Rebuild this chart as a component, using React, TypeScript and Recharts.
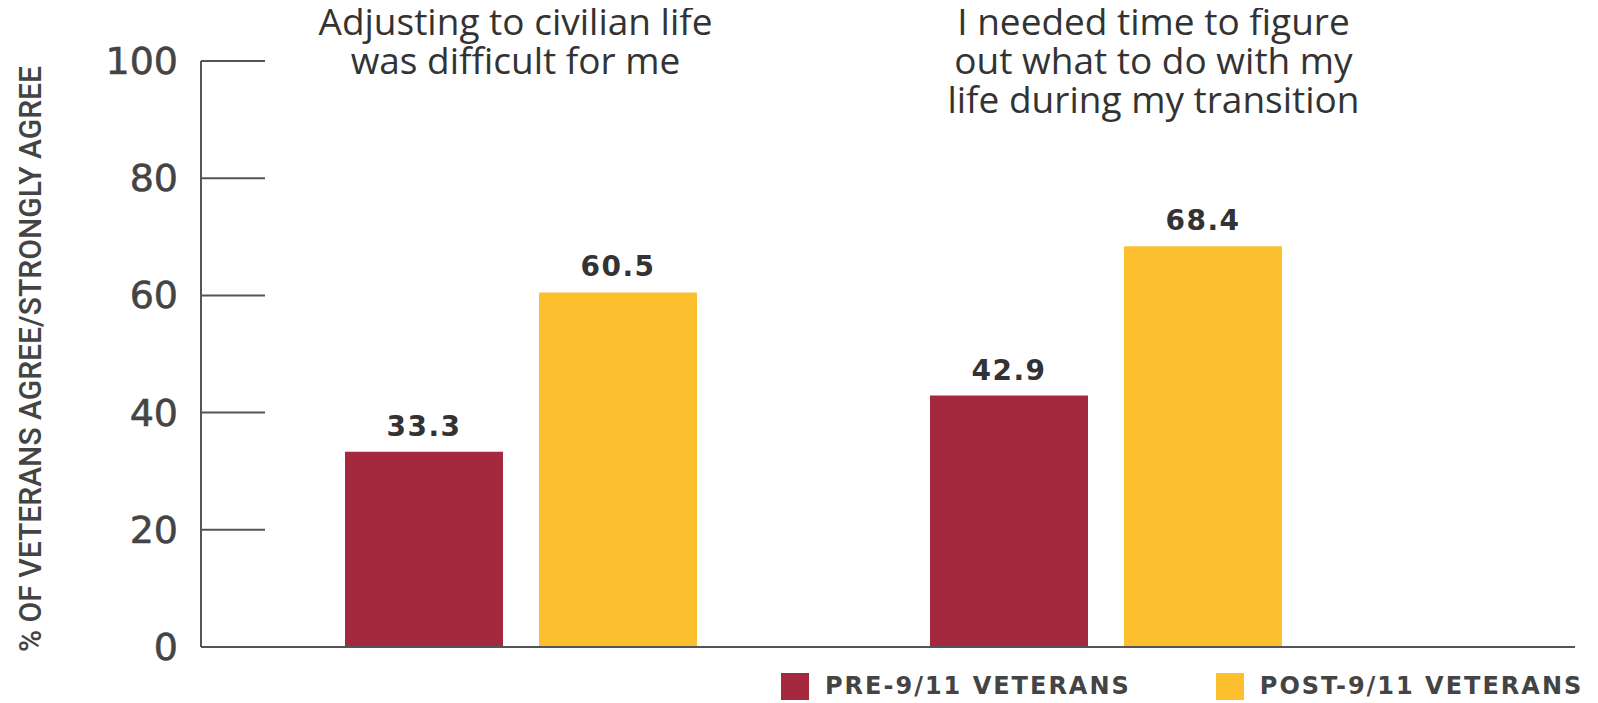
import React from 'react';
import { BarChart, Bar, XAxis, YAxis, LabelList, Legend } from 'recharts';

const categories = [
  'Adjusting to civilian life was difficult for me',
  'I needed time to figure out what to do with my life during my transition',
];
const categoryLines = [
  ['Adjusting to civilian life', 'was difficult for me'],
  ['I needed time to figure', 'out what to do with my', 'life during my transition'],
];
const preValues = [33.3, 42.9];
const postValues = [60.5, 68.4];
const yTicks = [0, 20, 40, 60, 80, 100];
const seriesNames = ['PRE-9/11 VETERANS', 'POST-9/11 VETERANS'];
const yAxisTitle = '% OF VETERANS AGREE/STRONGLY AGREE';

const RED = '#A4293F';
const YELLOW = '#FCC02F';
const TEXT = '#333333';
const AXIS = '#555555';

const data = categories.map((c, i) => ({ category: c, pre: preValues[i], post: postValues[i] }));

const titleDx = [-5, 48];
const TICK_MARGIN = 23;

const YTick = (props: any) => {
  const { x, y, payload } = props;
  return (
    <g>
      <line x1={x + TICK_MARGIN} x2={x + TICK_MARGIN + 64} y1={y} y2={y} stroke={AXIS} strokeWidth={2} />
      <text x={x} y={y} dy={13} textAnchor="end" fill="#444" stroke="#444" strokeWidth={0.6} fontSize={38} fontFamily="DejaVu Sans">
        {payload.value}
      </text>
    </g>
  );
};

const TitleTick = (props: any) => {
  const { x, payload } = props;
  const i = categories.indexOf(payload?.value);
  const lines = i >= 0 ? categoryLines[i] : [String(payload?.value ?? '')];
  const dx = i >= 0 ? titleDx[i] : 0;
  return (
    <g>
      <text x={x + dx} y={27} textAnchor="middle" fill={TEXT} fontSize={37} fontWeight={500} fontFamily="Open Sans">
        {lines.map((l, k) => (
          <tspan key={k} x={x + dx} dy={k === 0 ? 0 : 39}>{l}</tspan>
        ))}
      </text>
    </g>
  );
};

const YTitle = (props: any) => {
  const { viewBox } = props;
  const cx = 22;
  const cy = viewBox.y + viewBox.height / 2 + 5;
  return (
    <text
      x={cx}
      y={cy}
      transform={`rotate(-90 ${cx} ${cy})`}
      textAnchor="middle"
      dominantBaseline="central"
      fill="#444"
      fontSize={32}
      fontWeight={500}
      fontFamily="Liberation Sans Narrow, Roboto, sans-serif"
      textLength={586}
      lengthAdjust="spacingAndGlyphs"
    >
      {yAxisTitle}
    </text>
  );
};

const LegendContent = () => {
  const colors = [RED, YELLOW];
  return (
    <div style={{ display: 'flex', alignItems: 'center' }}>
      {seriesNames.map((n, i) => (
        <div key={n} style={{ display: 'flex', alignItems: 'center', marginRight: i === 0 ? 85 : 0 }}>
          <div style={{ width: 28, height: 27, background: colors[i], marginRight: 16 }} />
          <span
            style={{
              fontFamily: 'DejaVu Sans',
              fontWeight: 700,
              fontSize: 24,
              letterSpacing: 2,
              color: '#444',
              whiteSpace: 'nowrap',
            }}
          >
            {n}
          </span>
        </div>
      ))}
    </div>
  );
};

export default function App() {
  return (
    <BarChart
      width={1582}
      height={695}
      data={data}
      margin={{ top: 53, right: 15, left: 0, bottom: 36 }}
      barGap={36}
      barSize={158}
    >
      <XAxis
        dataKey="category"
        padding={{ left: 27, right: 177 }}
        tick={TitleTick}
        tickLine={false}
        height={20}
        interval={0}
        axisLine={{ stroke: AXIS, strokeWidth: 2 }}
      />
      <YAxis
        domain={[0, 100]}
        ticks={yTicks}
        width={193}
        tickSize={0}
        tickMargin={TICK_MARGIN}
        tick={<YTick />}
        axisLine={{ stroke: AXIS, strokeWidth: 2 }}
        label={{ content: <YTitle /> }}
        interval={0}
      />
      <Legend
        verticalAlign="middle"
        align="center"
        layout="horizontal"
        content={<LegendContent />}
        wrapperStyle={{ left: 773, top: 664, width: 'auto', height: 30 }}
      />
      <Bar dataKey="pre" name={seriesNames[0]} fill={RED} isAnimationActive={false}>
        <LabelList dataKey="pre" position="top" offset={16} fill="#333" fontSize={28} fontWeight={700} letterSpacing={1.5} fontFamily="DejaVu Sans" />
      </Bar>
      <Bar dataKey="post" name={seriesNames[1]} fill={YELLOW} isAnimationActive={false}>
        <LabelList dataKey="post" position="top" offset={16} fill="#333" fontSize={28} fontWeight={700} letterSpacing={1.5} fontFamily="DejaVu Sans" />
      </Bar>
    </BarChart>
  );
}
